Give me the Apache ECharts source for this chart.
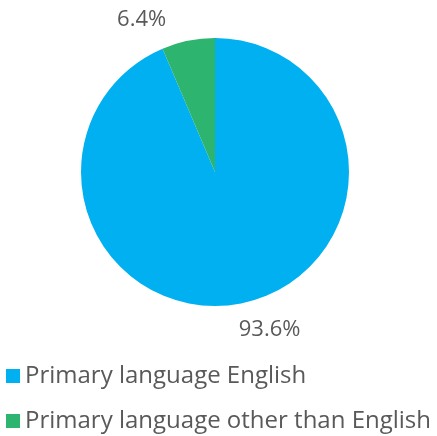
<!DOCTYPE html>
<html><head><meta charset="utf-8">
<script src="https://cdn.jsdelivr.net/npm/echarts@6/dist/echarts.min.js"></script>
<style>html,body{margin:0;padding:0;background:#fff}#c{width:437px;height:436px}</style>
</head><body><div id="c"></div>
<script>
const categories = ['Primary language English', 'Primary language other than English'];
const values = [93.6, 6.4];
const colors = ['#00B0F0', '#2DB46F'];

const chart = echarts.init(document.getElementById('c'));
chart.setOption({
  animation: false,
  color: colors,
  legend: {
    orient: 'vertical', left: 6, top: 364, itemGap: 21, padding: 0, height: 72,
    itemWidth: 14, itemHeight: 14, icon: 'rect',
    textStyle: { fontFamily: 'Open Sans', fontSize: 24, color: '#595959' },
    data: categories
  },
  series: [{
    type: 'pie', center: [215, 172], radius: 134, startAngle: 90, clockwise: true,
    data: categories.map((n, i) => ({ name: n, value: values[i] })),
    label: { show: true, position: 'outside', formatter: p => p.value.toFixed(1) + '%',
      fontFamily: 'Open Sans', fontSize: 22, color: '#595959' },
    labelLine: { show: false },
    labelLayout: p => (p.dataIndex === 0 ? { dx: -41, dy: 12 } : { dx: 16, dy: -6 }),
    itemStyle: { borderWidth: 0 },
    emphasis: { disabled: true }
  }]
});
</script></body></html>
